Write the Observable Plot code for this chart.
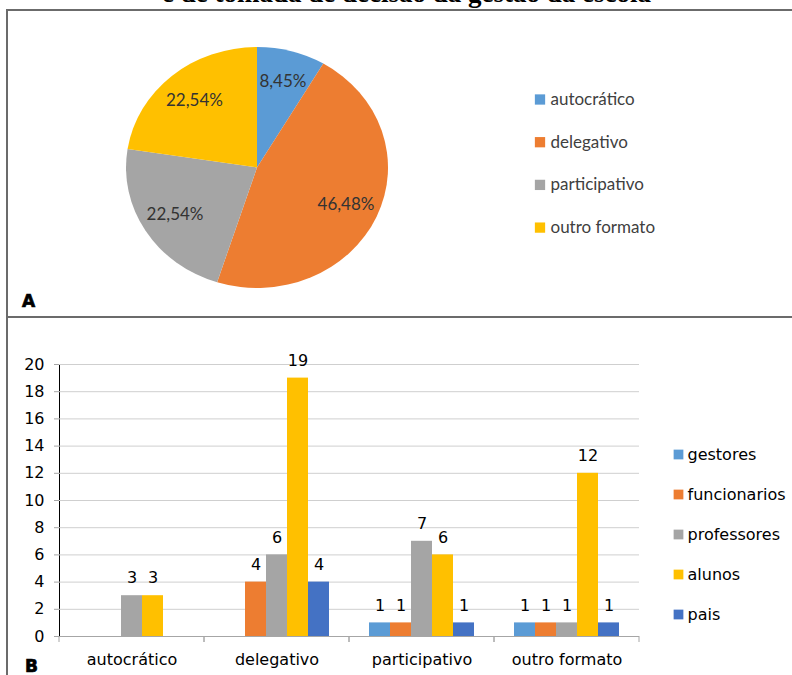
<!DOCTYPE html>
<html>
<head>
<meta charset="utf-8">
<script src="https://cdn.jsdelivr.net/npm/d3@7"></script>
<script src="https://cdn.jsdelivr.net/npm/@observablehq/plot@0.6"></script>
<style>
  body { margin: 0; background: #fff; }
  #page { position: relative; width: 792px; height: 675px; overflow: hidden; background: #fff; }
  #title {
    position: absolute; left: 120px; width: 573px; top: -21px;
    font: bold 27px/28px "Liberation Serif", "DejaVu Serif", serif;
    text-align: center; white-space: nowrap; color: #000;
  }
  #pie, #bars, #barLegend { position: absolute; }
  #pie { left: 0; top: 0; }
  #bars { left: 0; top: 318px; }
  #barLegend { left: 660px; top: 430px; }
  .rule { position: absolute; background: #6b6b6b; }
  .tag {
    position: absolute; font: bold 17px/17px "DejaVu Sans", sans-serif;
    -webkit-text-stroke: 0.7px #000; color: #000;
  }
  #bars [aria-label^="y-axis"] line,
  #bars [aria-label^="y-axis"] path { stroke: #a6a6a6; }
</style>
</head>
<body>
<div id="page">
  <div id="title">e de tomada de decisão da gestão da escola</div>
  <div id="pie"></div>
  <div id="bars"></div>
  <div id="barLegend"></div>
  <div class="rule" style="left:6px; top:9px; width:786px; height:2px;"></div>
  <div class="rule" style="left:6px; top:9px; width:1.5px; height:666px;"></div>
  <div class="rule" style="left:6px; top:316px; width:786px; height:2px;"></div>
  <div class="tag" style="left:22px; top:293px;">A</div>
  <div class="tag" style="left:25px; top:658px;">B</div>
</div>
<script>
// Panel A: share of each decision-making format (%)
const formats = ["autocrático", "delegativo", "participativo", "outro formato"];
const formatShares = [8.45, 46.48, 22.54, 22.54];
const formatColors = ["#5b9bd5", "#ed7d31", "#a5a5a5", "#ffc000"];

// Panel B: number of answers per format, by respondent group
const categories = ["autocrático", "delegativo", "participativo", "outro formato"];
const groups = ["gestores", "funcionarios", "professores", "alunos", "pais"];
const groupColors = ["#5b9bd5", "#ed7d31", "#a5a5a5", "#ffc000", "#4472c4"];
const gestores     = [null, null, 1, 1];
const funcionarios = [null, 4, 1, 1];
const professores  = [3, 6, 7, 1];
const alunos       = [3, 19, 6, 12];
const pais         = [null, 4, 1, 1];
const yTicks = [0, 2, 4, 6, 8, 10, 12, 14, 16, 18, 20];

// ---------- Panel A: pie ----------
const pieCx = 257, pieCy = 167.5, pieRx = 131, pieRy = 120.5, labelRadius = 0.74;
const pieArcs = d3.pie().sort(null).value(d => d.share)
  .startAngle(0).endAngle(2 * Math.PI)(formats.map((f, i) => ({format: f, share: formatShares[i]})));
const midAngle = a => (a.startAngle + a.endAngle) / 2;
const pct = v => v.toFixed(2).replace(".", ",") + "%";

function pieSlices(index, scales) {
  const arc = d3.arc().innerRadius(0).outerRadius(pieRx);
  const g = d3.create("svg:g")
    .attr("transform", `translate(${pieCx},${pieCy}) scale(1,${pieRy / pieRx})`);
  g.selectAll("path").data(pieArcs).join("path")
    .attr("d", arc)
    .attr("fill", d => scales.color(d.data.format));
  return g.node();
}

const legendTop = 99, legendStep = 42.7;
const pie = Plot.plot({
  width: 792, height: 317, margin: 0,
  x: {type: "identity", axis: null},
  y: {type: "identity", axis: null},
  color: {domain: formats, range: formatColors},
  style: {fontFamily: "Lato, 'Open Sans', sans-serif", fontSize: "17px", background: "transparent", overflow: "visible"},
  marks: [
    pieSlices,
    Plot.text(pieArcs, {
      x: d => pieCx + labelRadius * pieRx * Math.sin(midAngle(d)),
      y: d => pieCy - labelRadius * pieRy * Math.cos(midAngle(d)),
      text: d => pct(d.data.share),
      fill: "#333333"
    }),
    Plot.dot(formats, {x: 539.5, y: (d, i) => legendTop + i * legendStep, symbol: "square", r: 5.8, fill: d => d}),
    Plot.text(formats, {x: 550, y: (d, i) => legendTop + i * legendStep, text: d => d, textAnchor: "start", fill: "#404040"})
  ]
});
document.getElementById("pie").append(pie);

// ---------- Panel B: grouped bars ----------
const groupCounts = [gestores, funcionarios, professores, alunos, pais];
const barRows = groups.flatMap((g, j) =>
  categories.map((c, i) => ({category: c, group: g, count: groupCounts[j][i]}))
).filter(d => d.count != null);

// small tick marks on the category boundaries below the baseline
function groupEdgeTicks(index, {x, y}) {
  const [x0, x1] = x.range();
  const y0 = y(0);
  const g = d3.create("svg:g").attr("stroke", "#a6a6a6");
  for (const xe of [x0, x1]) {
    g.append("line").attr("x1", xe).attr("x2", xe).attr("y1", y0).attr("y2", y0 + 6);
  }
  return g.node();
}

const bars = Plot.plot({
  width: 792, height: 357,
  marginLeft: 57, marginRight: 152, marginTop: 46, marginBottom: 39,
  style: {fontFamily: "'DejaVu Sans', sans-serif", fontSize: "16px", color: "#000", background: "transparent", overflow: "visible"},
  facet: {data: barRows, x: "category"},
  fx: {domain: categories, padding: 0, label: null, axis: "bottom", tickSize: 0, tickPadding: 17},
  x: {domain: groups, paddingInner: 0, paddingOuter: 0.8125, axis: null},
  y: {domain: [0, 20], ticks: yTicks, tickSize: 5, tickPadding: 10, line: true, label: null},
  color: {domain: groups, range: groupColors},
  marks: [
    Plot.ruleY(yTicks.filter(v => v > 0), {stroke: "#cfcfcf"}),
    Plot.barY(barRows, {x: "group", y: "count", fill: "group"}),
    Plot.ruleY([0], {stroke: "#a6a6a6"}),
    groupEdgeTicks,
    Plot.text(barRows, {x: "group", y: "count", text: d => String(d.count), dy: -17.5, fill: "#000"})
  ]
});
document.getElementById("bars").append(bars);

const barLegend = Plot.plot({
  width: 132, height: 200, margin: 0,
  x: {type: "identity", axis: null},
  y: {type: "point", domain: groups, range: [24, 184], padding: 0, axis: null},
  color: {domain: groups, range: groupColors},
  style: {fontFamily: "'DejaVu Sans', sans-serif", fontSize: "16px", background: "transparent", overflow: "visible"},
  marks: [
    Plot.dot(groups, {x: 18, y: d => d, symbol: "square", r: 5.5, fill: d => d}),
    Plot.text(groups, {x: 27, y: d => d, text: d => d, textAnchor: "start", fill: "#000"})
  ]
});
document.getElementById("barLegend").append(barLegend);
</script>
</body>
</html>
